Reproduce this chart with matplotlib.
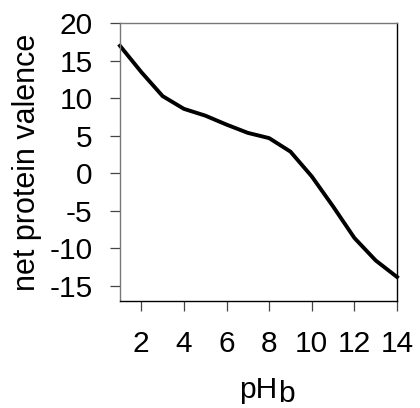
import matplotlib
matplotlib.use("Agg")
import matplotlib.pyplot as plt

ph = [1, 2, 3, 4, 5, 6, 7, 8, 9, 10, 11, 12, 13, 14]
valence = [17.0, 13.5, 10.3, 8.6, 7.7, 6.5, 5.4, 4.7, 2.9, -0.4, -4.4, -8.6, -11.6, -13.8]
xticks = [2, 4, 6, 8, 10, 12, 14]
yticks = [-15, -10, -5, 0, 5, 10, 15, 20]

plt.rcParams['font.family'] = ['Liberation Sans', 'DejaVu Sans']

fig = plt.figure(figsize=(4.2, 4.08), dpi=100)
ax = fig.add_axes([120/420, 1-301/408, (397-120)/420, (301-23.3)/408])

ax.plot(ph, valence, color='black', linewidth=2.8, solid_joinstyle='round', clip_on=False)
ax.set_xlim(1, 14)
ax.set_ylim(-17, 20)
ax.set_xticks(xticks)
ax.set_yticks(yticks)
ax.set_xticklabels([str(t) for t in xticks])
ax.set_yticklabels([str(t) for t in yticks])

ax.tick_params(axis='both', direction='out', length=7.2, width=0.9, color='#444444', labelsize=21.5)
ax.tick_params(axis='x', pad=13.5)
ax.tick_params(axis='y', pad=12.5)

for side in ['left', 'top']:
    ax.spines[side].set_color('#777777')
    ax.spines[side].set_linewidth(1.0)
for side in ['right', 'bottom']:
    ax.spines[side].set_color('black')
    ax.spines[side].set_linewidth(1.0)

ax.set_ylabel('net protein valence', fontsize=22, labelpad=5)

# x label "pH" with full-size lowered "b"
t = fig.text(258.5/420, 1-397.5/408, 'pH', fontsize=21.5, ha='center', va='baseline')
ax.annotate('b', xy=(1, 0), xycoords=t, xytext=(0, -4), textcoords='offset pixels',
            fontsize=21.5, ha='left', va='bottom', annotation_clip=False)

fig.savefig('out.png', dpi=100)
